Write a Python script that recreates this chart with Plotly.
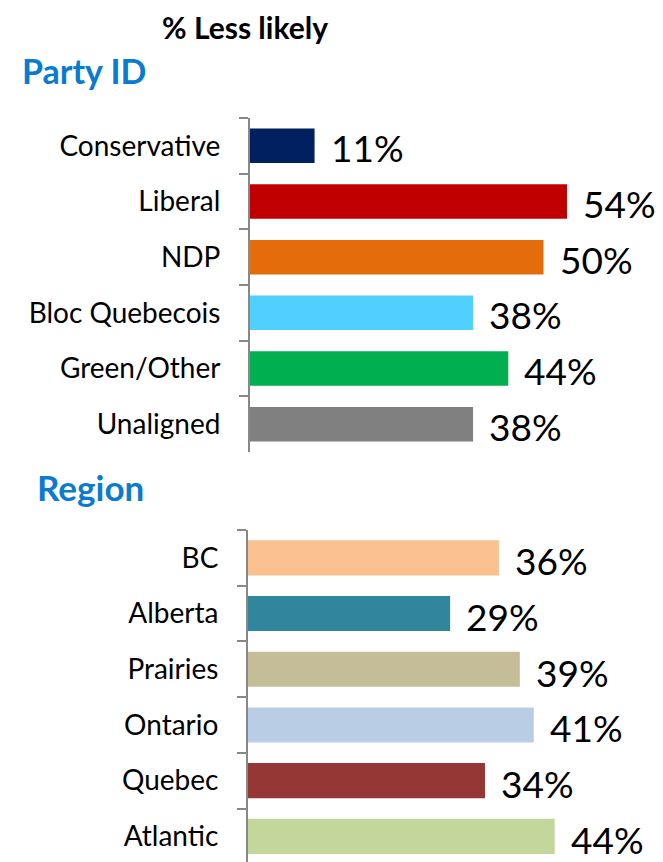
import plotly.graph_objects as go

party_labels = ["Conservative", "Liberal", "NDP", "Bloc Quebecois", "Green/Other", "Unaligned"]
party_values = [11, 54, 50, 38, 44, 38]
party_colors = ["#002060", "#C00000", "#E46C0A", "#4FD0FF", "#00B050", "#808080"]

region_labels = ["BC", "Alberta", "Prairies", "Ontario", "Quebec", "Atlantic"]
region_values = [36, 29, 39, 41, 34, 44]
region_colors = ["#FAC090", "#31859C", "#C4BD97", "#B9CDE5", "#953735", "#C3D69B"]

# page body has an 8px margin, so the figure is drawn 8px smaller and offsets are shifted
W, H = 655, 854
O = 8
FONT = "Lato, Liberation Sans, sans-serif"

fig = go.Figure()

fig.add_trace(go.Bar(x=party_values, y=party_labels, orientation="h",
                     marker=dict(color=party_colors, line=dict(width=0)),
                     width=0.62, xaxis="x", yaxis="y", hoverinfo="skip"))
fig.add_trace(go.Bar(x=region_values, y=region_labels, orientation="h",
                     marker=dict(color=region_colors, line=dict(width=0)),
                     width=0.63, xaxis="x2", yaxis="y2", hoverinfo="skip"))

annotations = []
for lab, v in zip(party_labels, party_values):
    annotations.append(dict(x=v, y=lab, xref="x", yref="y", text=f"{v}%",
                            showarrow=False, xanchor="left", yanchor="middle",
                            xshift=14, yshift=-2, font=dict(size=37, color="black", family=FONT)))
for lab, v in zip(region_labels, region_values):
    annotations.append(dict(x=v, y=lab, xref="x2", yref="y2", text=f"{v}%",
                            showarrow=False, xanchor="left", yanchor="middle",
                            xshift=14, yshift=-3, font=dict(size=37, color="black", family=FONT)))

annotations.append(dict(x=(245 - O) / W, y=1, xref="paper", yref="paper",
                        text="<b>% Less likely</b>", showarrow=False,
                        xanchor="center", yanchor="top", borderpad=0,
                        font=dict(size=30, color="black", family=FONT)))
annotations.append(dict(x=(20 - O) / W, y=1 - (72 - O - 1) / H, xref="paper", yref="paper",
                        text="<b>Party ID</b>", showarrow=False,
                        xanchor="left", yanchor="middle",
                        font=dict(size=34, color="#0A7BD1", family=FONT)))
annotations.append(dict(x=(35 - O) / W, y=1 - (488 - O - 1) / H, xref="paper", yref="paper",
                        text="<b>Region</b>", showarrow=False,
                        xanchor="left", yanchor="middle",
                        font=dict(size=35, color="#0A7BD1", family=FONT)))

yax_common = dict(type="category", showline=True, linecolor="#888888", linewidth=2,
                  ticks="outside", ticklen=9, tickwidth=2, tickcolor="#888888",
                  tickson="boundaries", showgrid=False, zeroline=False,
                  tickfont=dict(size=28, color="black", family=FONT),
                  ticklabelstandoff=22, fixedrange=True)

fig.update_layout(
    width=W, height=H,
    margin=dict(l=0, r=0, t=0, b=0),
    paper_bgcolor="white", plot_bgcolor="white",
    showlegend=False,
    xaxis=dict(domain=[(250 - O) / W, 1], range=[0, (W - (250 - O)) / 5.87], visible=False,
               anchor="y", fixedrange=True),
    yaxis=dict(domain=[1 - (452 - O) / H, 1 - (118 - O) / H], range=[5.5, -0.5], anchor="x",
               categoryorder="array", categoryarray=party_labels, **yax_common),
    xaxis2=dict(domain=[(248 - O) / W, 1], range=[0, (W - (248 - O)) / 6.97], visible=False,
                anchor="y2", fixedrange=True),
    yaxis2=dict(domain=[0, 1 - (530 - O) / H], range=[5.46, -0.5], anchor="x2",
                categoryorder="array", categoryarray=region_labels, **yax_common),
    annotations=annotations,
)

fig.write_html("out.html")
